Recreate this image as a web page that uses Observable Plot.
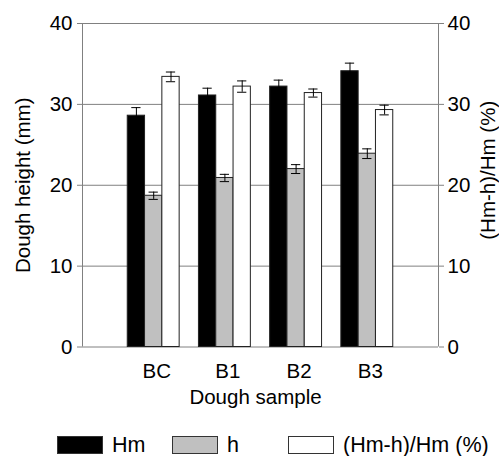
<!DOCTYPE html>
<html><head><meta charset="utf-8">
<script src="https://cdn.jsdelivr.net/npm/d3@7"></script>
<script src="https://cdn.jsdelivr.net/npm/@observablehq/plot@0.6"></script>
<style>
body{margin:0;background:#fff;font-family:"Liberation Sans",Arial,sans-serif;}
#wrap{position:relative;width:499px;height:456px;}
#chart{position:absolute;left:0;top:0;}
#legend{position:absolute;left:0;top:434px;width:499px;height:22px;font-size:21.5px;line-height:22px;color:#000;}
.item{position:absolute;top:0;height:22px;display:flex;align-items:center;white-space:nowrap;}
.sw{width:46px;height:18px;border:1px solid #333;box-sizing:border-box;margin-right:9px;flex:none;}
</style></head><body><div id="wrap"><div id="chart"></div><div id="legend"></div></div>
<script>
const categories = ["BC", "B1", "B2", "B3"];
const seriesNames = ["Hm", "h", "(Hm-h)/Hm (%)"];
const hm = [28.6, 31.1, 32.2, 34.1];
const hmErr = [1.0, 0.9, 0.8, 1.0];
const hVals = [18.7, 20.9, 22.0, 23.9];
const hErr = [0.45, 0.45, 0.55, 0.6];
const ratio = [33.4, 32.2, 31.4, 29.3];
const ratioErr = [0.6, 0.7, 0.5, 0.6];
const yTicks = [0, 10, 20, 30, 40];
const seriesColors = ["#000000", "#c0c0c0", "#ffffff"];

const values = [hm, hVals, ratio];
const errs = [hmErr, hErr, ratioErr];
const barW = 0.243;
const capW = 0.065;
const rows = [];
categories.forEach((c, i) => {
  seriesNames.forEach((s, j) => {
    const x1 = (i + 1) + (j - 1.5) * barW;
    rows.push({cat: c, series: s, value: values[j][i], err: errs[j][i], x1, x2: x1 + barW, xc: x1 + barW / 2});
  });
});

const font = "'Liberation Sans', Arial, sans-serif";
const fs = 20.5;
const plot = Plot.plot({
  width: 499, height: 425,
  marginLeft: 82, marginRight: 61, marginTop: 23, marginBottom: 78.5,
  style: {fontFamily: font, fontSize: fs + "px", color: "#000", background: "#fff", overflow: "visible"},
  x: {domain: [0, 5], axis: null},
  y: {domain: [0, 40], axis: null},
  color: {domain: seriesNames, range: seriesColors},
  marks: [
    Plot.ruleY(yTicks, {stroke: "#808080", strokeWidth: 1}),
    Plot.ruleX([0, 5], {stroke: "#808080", strokeWidth: 1}),
    Plot.rectY(rows, {x1: "x1", x2: "x2", y1: 0, y2: "value", fill: "series", stroke: "#222", strokeWidth: 1}),
    Plot.ruleX(rows, {x: "xc", y1: d => d.value - d.err, y2: d => d.value + d.err, stroke: "#000", strokeWidth: 1}),
    Plot.ruleY(rows, {y: d => d.value + d.err, x1: d => d.xc - capW, x2: d => d.xc + capW, stroke: "#000", strokeWidth: 1}),
    Plot.ruleY(rows, {y: d => d.value - d.err, x1: d => d.xc - capW, x2: d => d.xc + capW, stroke: "#000", strokeWidth: 1}),
    Plot.axisY({anchor: "left", ticks: yTicks, tickSize: 5, tickPadding: 5, label: null, stroke: "#808080", fontSize: fs}),
    Plot.axisY({anchor: "right", ticks: yTicks, tickSize: 5, tickPadding: 4, label: null, stroke: "#808080", fontSize: fs}),
    Plot.axisX({anchor: "bottom", ticks: [1, 2, 3, 4], tickFormat: d => categories[d - 1], tickSize: 0, tickPadding: 16, dx: 3, label: null, fontSize: fs}),
    Plot.text(["Dough height (mm)"], {frameAnchor: "left", dx: -59, rotate: -90, textAnchor: "middle", fontSize: fs}),
    Plot.text(["(Hm-h)/Hm (%)"], {frameAnchor: "right", dx: 50, dy: -15, rotate: -90, textAnchor: "middle", fontSize: fs}),
    Plot.text(["Dough sample"], {frameAnchor: "bottom", dx: -5, dy: 57, textAnchor: "middle", fontSize: fs})
  ]
});
document.getElementById("chart").appendChild(plot);

const legendLeft = [57, 172, 288];
const legend = document.getElementById("legend");
seriesNames.forEach((s, j) => {
  const it = document.createElement("div");
  it.className = "item";
  it.style.left = legendLeft[j] + "px";
  const sw = document.createElement("div");
  sw.className = "sw";
  sw.style.background = seriesColors[j];
  const t = document.createElement("span");
  t.textContent = s;
  it.appendChild(sw); it.appendChild(t);
  legend.appendChild(it);
});
</script></body></html>
